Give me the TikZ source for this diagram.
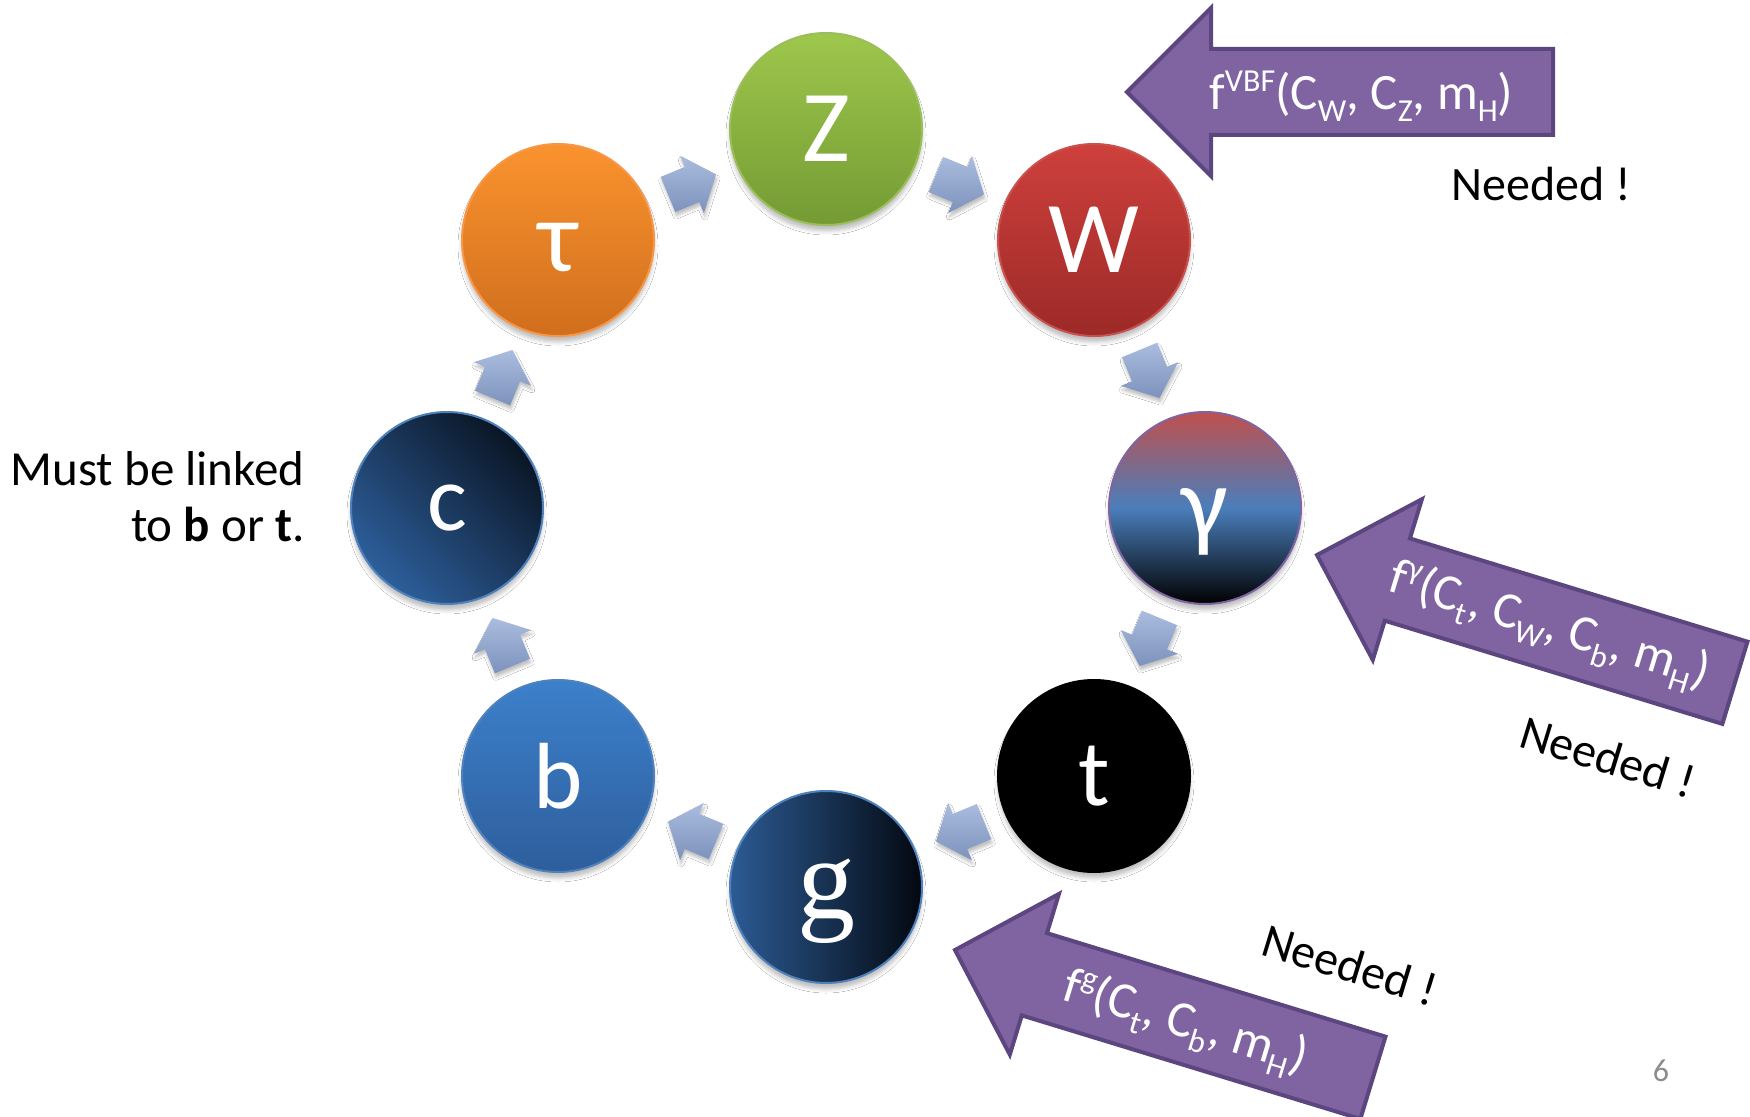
\documentclass[tikz,border=0pt]{standalone}
\usepackage{fontspec}
\setmainfont{Carlito}
\newfontfamily\serifg{Liberation Serif}
\usetikzlibrary{calc,shadows.blur}

\definecolor{purplefill}{HTML}{8064A2}
\definecolor{purpleline}{HTML}{5C4680}
\definecolor{flowtop}{HTML}{AABDDF}
\definecolor{flowbot}{HTML}{7D92BC}
\definecolor{pagegray}{HTML}{8C8C8C}

% raised / lowered indices in running text
\newcommand\upidx[1]{\raisebox{0.36em}{\fontsize{16}{16}\selectfont #1}}
\newcommand\loidx[1]{\raisebox{-0.22em}{\fontsize{16}{16}\selectfont #1}}
% glyph drawn lower while keeping its box
\newcommand\lowered[2]{\raisebox{-#1}[\height][\depth]{#2}}

\begin{document}
\begin{tikzpicture}[x=0.5pt, y=-0.5pt,
  particle/.style={circle, minimum size=96pt, inner sep=0pt, line width=1pt,
    text=white, font=\fontsize{47}{47}\selectfont,
    blur shadow={shadow xshift=0pt, shadow yshift=-3pt,
      shadow blur radius=2pt, shadow opacity=25}},
  flowshade/.style={top color=flowtop, bottom color=flowbot,
    blur shadow={shadow xshift=0.5pt, shadow yshift=-2pt,
      shadow blur radius=1.5pt, shadow opacity=25}},
  bigarrow/.style={fill=purplefill, draw=purpleline, line width=2pt, line join=miter},
  arrowtext/.style={text=white, font=\fontsize{25.5}{25.5}\selectfont, inner sep=0pt},
  note/.style={font=\fontsize{24}{24}\selectfont, inner sep=0pt},
  flowarrow/.pic={\path[flowshade] (-26,-19) -- (0,-19) -- (0,-31) -- (26,0)
    -- (0,31) -- (0,19) -- (-26,19) -- cycle;}
]
\useasboundingbox (0,0) rectangle (1750,1117);
\clip (0,0) rectangle (1750,1117);
\fill[white] (0,0) rectangle (1750,1117);

% ring of particles
\coordinate (o) at (826,508);
\node[particle, font=\fontsize{51}{51}\selectfont,
      top color={rgb,255:red,158;green,199;blue,76}, bottom color={rgb,255:red,116;green,155;blue,52},
      draw={rgb,255:red,155;green,190;blue,90}] (Z) at ($(o)+(-90:379)$) {Z};
\node[particle, font=\fontsize{51}{51}\selectfont,
      top color={rgb,255:red,206;green,64;blue,60}, bottom color={rgb,255:red,156;green,42;blue,40},
      draw={rgb,255:red,200;green,80;blue,77}] (W) at ($(o)+(-45:379)$) {W};
\node[particle, font=\fontsize{52}{52}\selectfont,
      top color={rgb,255:red,192;green,80;blue,77}, bottom color=black,
      middle color={rgb,255:red,74;green,126;blue,187},
      draw=purplefill] (gam) at ($(o)+(0:379)$) {\lowered{7pt}{γ}};
\node[particle, fill=black, draw=black] (t) at ($(o)+(45:379)$) {t};
\node[particle, font=\fontsize{58}{58}\selectfont\serifg,
      left color={rgb,255:red,44;green,91;blue,148}, right color={rgb,255:red,3;green,8;blue,16},
      draw={rgb,255:red,79;green,129;blue,189}] (g) at ($(o)+(90:379)$) {\lowered{7pt}{g}};
\node[particle, top color={rgb,255:red,60;green,128;blue,203}, bottom color={rgb,255:red,46;green,94;blue,156},
      draw={rgb,255:red,79;green,129;blue,189}] (b) at ($(o)+(135:379)$) {b};
\node[particle, top color={rgb,255:red,10;green,21;blue,36}, bottom color={rgb,255:red,45;green,95;blue,155},
      shading angle=-45, draw={rgb,255:red,79;green,129;blue,189}] (c) at ($(o)+(180:379)$) {c};
\node[particle, font=\fontsize{51}{51}\selectfont,
      top color={rgb,255:red,250;green,147;blue,46}, bottom color={rgb,255:red,208;green,110;blue,29},
      draw={rgb,255:red,247;green,150;blue,70}] (tau) at ($(o)+(225:379)$) {\lowered{4pt}{τ}};

% block arrows between neighbours, pointing clockwise
\foreach \a/\b in {tau/Z, Z/W, W/gam, gam/t, t/g, g/b, b/c, c/tau}{
  \path let \p1=($(\b)-(\a)$), \n1={atan2(\y1,\x1)} in
    pic[rotate=\n1] at ($(\a)!0.5!(\b)$) {flowarrow};
}

% the three production arrows
\begin{scope}[shift={(1127,92)}]
  \draw[bigarrow] (0,0) -- (84,-84) -- (84,-43) -- (426,-43) -- (426,43)
    -- (84,43) -- (84,84) -- cycle;
\end{scope}
\begin{scope}[shift={(1317,555)}, rotate=-17]
  \draw[bigarrow] (0,0) -- (84,-84) -- (84,-43) -- (437,-43) -- (437,43)
    -- (84,43) -- (84,84) -- cycle;
\end{scope}
\begin{scope}[shift={(955,950)}, rotate=-17]
  \draw[bigarrow] (0,0) -- (83,-84) -- (83,-43) -- (437,-43) -- (437,43)
    -- (83,43) -- (83,84) -- cycle;
\end{scope}

\node[arrowtext, anchor=base west] (fvbf) at (1209,110)
  {f\upidx{VBF}(C\loidx{W}, C\loidx{Z}, m\loidx{H})};
\node[arrowtext, rotate=-17] (fgam) at (1549,627)
  {f\upidx{γ}(C\loidx{t}, C\loidx{W}, C\loidx{b}, m\loidx{H})};
\node[arrowtext, rotate=-17] (fg) at (1185,1024)
  {f\upidx{g}(C\loidx{t}, C\loidx{b}, m\loidx{H})};

\node[note] (need1) at (1541,184) {Needed !};
\node[note, rotate=-17] (need2) at (1608,757) {Needed !};
\node[note, rotate=-17] (need3) at (1350,965) {Needed !};

\node[note, align=right, anchor=north east, font=\fontsize{24.5}{28}\selectfont] (link) at (305,451)
  {Must be linked\\to \textbf{b} or \textbf{t}.};

\node[font=\fontsize{16}{16}\selectfont, text=pagegray] (page) at (1661,1071) {6};
\end{tikzpicture}
\end{document}
